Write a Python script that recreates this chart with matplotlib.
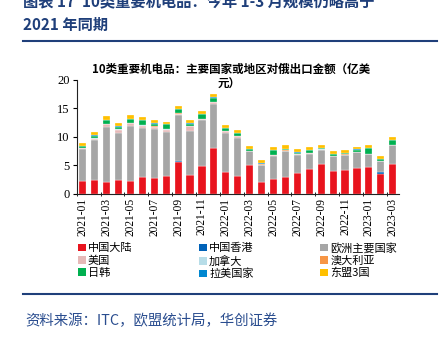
import matplotlib
matplotlib.use('Agg')
from matplotlib import pyplot as plt
from matplotlib.patches import Patch
from matplotlib.lines import Line2D
import numpy as np

plt.rcParams['font.family'] = ['Noto Sans CJK SC', 'DejaVu Sans']

months = ['2021-01', '2021-02', '2021-03', '2021-04', '2021-05', '2021-06', '2021-07',
          '2021-08', '2021-09', '2021-10', '2021-11', '2021-12', '2022-01', '2022-02',
          '2022-03', '2022-04', '2022-05', '2022-06', '2022-07', '2022-08', '2022-09',
          '2022-10', '2022-11', '2022-12', '2023-01', '2023-02', '2023-03']

mainland = [2.2, 2.35, 2.05, 2.35, 2.2, 2.9, 2.65, 3.05, 5.5, 3.3, 4.8, 8.0, 3.8, 3.1,
            5.0, 1.95, 2.5, 2.9, 3.6, 4.25, 5.1, 4.0, 4.1, 4.5, 4.7, 3.5, 5.1]
hongkong = [0.03, 0.03, 0.03, 0.03, 0.03, 0.03, 0.03, 0.03, 0.15, 0.03, 0.03, 0.03, 0.03, 0.03,
            0.03, 0.02, 0.02, 0.02, 0.02, 0.02, 0.02, 0.02, 0.02, 0.02, 0.02, 0.25, 0.03]
europe = [5.6, 7.05, 9.6, 8.25, 9.6, 8.5, 8.65, 7.75, 8.15, 7.7, 8.0, 7.65, 6.85, 6.7,
          2.35, 3.05, 4.15, 4.5, 3.15, 2.7, 2.5, 2.5, 2.65, 2.7, 2.2, 1.95, 3.3]
usa = [0.1, 0.2, 0.45, 0.6, 0.55, 0.5, 0.4, 0.4, 0.2, 0.75, 0.2, 0.3, 0.25, 0.3,
       0.1, 0.05, 0.1, 0.1, 0.1, 0.1, 0.1, 0.05, 0.05, 0.05, 0.05, 0.05, 0.1]
canada = [0.03, 0.03, 0.03, 0.03, 0.03, 0.03, 0.03, 0.03, 0.03, 0.03, 0.03, 0.03, 0.02, 0.02,
          0.02, 0.02, 0.02, 0.02, 0.02, 0.02, 0.02, 0.02, 0.02, 0.02, 0.02, 0.02, 0.02]
australia = [0.02, 0.02, 0.02, 0.02, 0.02, 0.02, 0.02, 0.02, 0.02, 0.02, 0.02, 0.02, 0.02, 0.02,
             0.02, 0.02, 0.02, 0.02, 0.02, 0.02, 0.02, 0.02, 0.02, 0.02, 0.02, 0.02, 0.02]
japan_korea = [0.3, 0.5, 0.7, 0.45, 0.65, 0.9, 0.5, 0.85, 0.75, 0.45, 0.8, 0.8, 0.5, 0.4,
               0.25, 0.15, 0.75, 0.3, 0.25, 0.45, 0.2, 0.35, 0.25, 0.4, 1.0, 0.2, 0.75]
latam = [0.05, 0.05, 0.05, 0.05, 0.05, 0.05, 0.05, 0.05, 0.05, 0.05, 0.05, 0.05, 0.04, 0.04,
         0.04, 0.04, 0.04, 0.04, 0.04, 0.04, 0.04, 0.04, 0.04, 0.04, 0.04, 0.04, 0.04]
asean = [0.5, 0.6, 0.6, 0.55, 0.6, 0.5, 0.6, 0.45, 0.6, 0.5, 0.6, 0.55, 0.5, 0.6,
         0.5, 0.5, 0.5, 0.55, 0.55, 0.55, 0.45, 0.5, 0.45, 0.4, 0.55, 0.55, 0.5]

series = [
    ('中国大陆', mainland, '#E8141E'),
    ('中国香港', hongkong, '#0062B8'),
    ('欧洲主要国家', europe, '#A6A6A6'),
    ('美国', usa, '#E6B9B8'),
    ('加拿大', canada, '#B7DDE8'),
    ('澳大利亚', australia, '#F79646'),
    ('日韩', japan_korea, '#00B050'),
    ('拉美国家', latam, '#0087D0'),
    ('东盟3国', asean, '#FFC000'),
]

fig = plt.figure(figsize=(4.46, 3.37), dpi=100)
ax = fig.add_axes([0.172, 0.4258, 0.722, 0.338])

x = np.arange(len(months))
bottom = np.zeros(len(months))
handles = {}
for name, vals, color in series:
    ax.bar(x, vals, 0.6, bottom=bottom, color=color, edgecolor='white', linewidth=0.2)
    bottom += np.array(vals)
    handles[name] = Patch(facecolor=color, edgecolor='none')

ax.set_xlim(-0.5, len(months) - 0.5)
ax.set_ylim(0, 20)
ax.set_yticks([0, 5, 10, 15, 20])
ax.set_yticklabels(['0', '5', '10', '15', '20'], family='Liberation Serif', fontsize=9)
ax.set_xticks(x[::2])
ax.set_xticklabels(months[::2], rotation=90, family='Liberation Serif', fontsize=8.3)
ax.set_xticks(np.arange(-0.5, len(months), 2), minor=True)
ax.tick_params(axis='x', which='major', length=0, pad=3)
ax.tick_params(axis='x', which='minor', length=3, direction='inout')
ax.tick_params(axis='y', length=3, direction='out', pad=2)
for s in ['top', 'right']:
    ax.spines[s].set_visible(False)
for s in ['left', 'bottom']:
    ax.spines[s].set_linewidth(0.8)
    ax.spines[s].set_color('#222222')

fig.text(0.517, 1 - 69 / 337, '10类重要机电品：主要国家或地区对俄出口金额（亿美',
         ha='center', va='center', fontsize=8.3, weight='bold')
fig.text(0.513, 1 - 84 / 337, '元）', ha='center', va='center', fontsize=8.3, weight='bold')

order = ['中国大陆', '美国', '日韩', '中国香港', '加拿大', '拉美国家', '欧洲主要国家', '澳大利亚', '东盟3国']
fig.legend([handles[n] for n in order], order, ncol=3, loc='upper left',
           bbox_to_anchor=(78 / 446, 1 - 242.5 / 337), frameon=False, fontsize=8,
           handlelength=0.7, handleheight=0.7, handletextpad=0.2, columnspacing=6.0,
           labelspacing=0.18, borderpad=0, borderaxespad=0)

navy = '#1F3F7A'
fig.text(23 / 446, 1 - 2 / 337, '图表 17  10类重要机电品：今年 1-3 月规模仍略高于',
         ha='left', va='center', fontsize=11, weight='bold', color=navy)
fig.text(23 / 446, 1 - 25 / 337, '2021 年同期', ha='left', va='center', fontsize=11,
         weight='bold', color=navy)
fig.add_artist(Line2D([23 / 446, 437 / 446], [1 - 41 / 337, 1 - 41 / 337],
                      color=navy, linewidth=1.5))
fig.add_artist(Line2D([23 / 446, 437 / 446], [1 - 294 / 337, 1 - 294 / 337],
                      color=navy, linewidth=1.5))
fig.text(25 / 446, 1 - 321 / 337, '资料来源：ITC，欧盟统计局，华创证券', ha='left', va='center',
         fontsize=10.4, style='italic', color='#2A4D8F')

fig.savefig('out.png', dpi=100)
